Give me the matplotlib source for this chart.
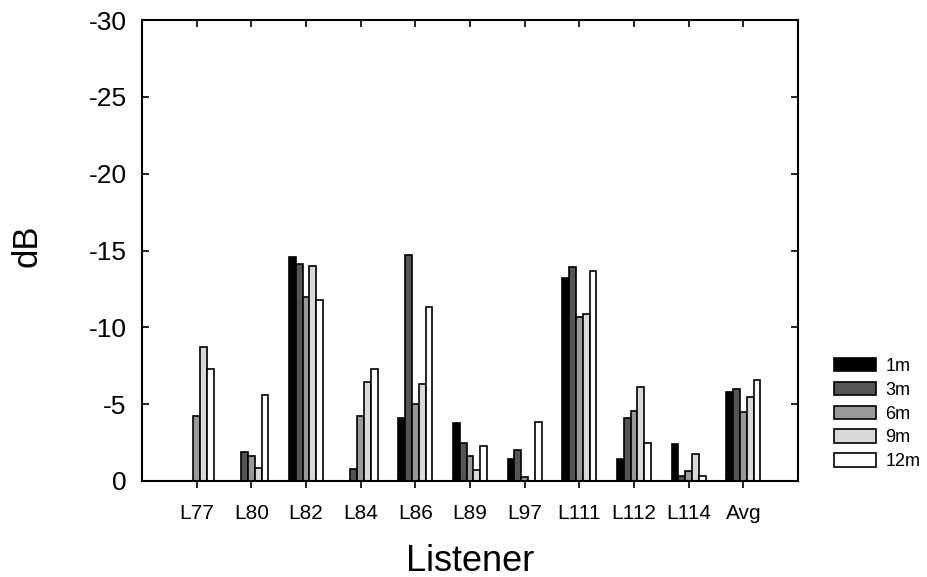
import matplotlib.pyplot as plt
import numpy as np

plt.rcParams['font.family'] = ['Liberation Sans', 'DejaVu Sans']
plt.rcParams['axes.unicode_minus'] = False

listeners = ['L77', 'L80', 'L82', 'L84', 'L86', 'L89', 'L97', 'L111', 'L112', 'L114', 'Avg']
distances = ['1m', '3m', '6m', '9m', '12m']

d1m = [0, 0, -14.6, 0, -4.1, -3.8, -1.4, -13.2, -1.4, -2.4, -5.8]
d3m = [0, -1.9, -14.1, -0.8, -14.7, -2.5, -2.0, -13.9, -4.1, -0.35, -6.0]
d6m = [-4.2, -1.65, -11.95, -4.2, -5.0, -1.65, -0.26, -10.65, -4.55, -0.67, -4.5]
d9m = [-8.75, -0.85, -14.0, -6.45, -6.3, -0.7, 0, -10.85, -6.1, -1.76, -5.45]
d12m = [-7.3, -5.6, -11.8, -7.3, -11.35, -2.25, -3.85, -13.65, -2.45, -0.35, -6.6]

series = [d1m, d3m, d6m, d9m, d12m]
colors = ['#000000', '#555555', '#999999', '#d9d9d9', '#ffffff']

fig = plt.figure(figsize=(9.27, 5.77), dpi=100)
ax = fig.add_axes([142/927, 1 - 481/577, 656/927, 461/577])

x = np.arange(len(listeners))
width = 0.125
for i, vals in enumerate(series):
    ax.bar(x + (i - 2) * width, vals, width, color=colors[i],
           edgecolor='black', linewidth=1.2, label=distances[i])

ax.set_xlim(-1, len(listeners))
ax.set_ylim(0, -30)
ax.set_yticks([0, -5, -10, -15, -20, -25, -30])
ax.set_xticks(x)
ax.set_xticklabels(listeners, fontsize=15)
ax.tick_params(axis='y', labelsize=19, pad=11, direction='in', length=5,
               width=1.2, right=True)
ax.tick_params(axis='x', direction='out', length=5, width=1.2, pad=11.5)
ax.tick_params(axis='x', which='major', top=True)
# top ticks point inward, bottom ones outward
for t in ax.xaxis.get_major_ticks():
    t.tick2line.set_marker(3)
for s in ax.spines.values():
    s.set_linewidth(1.5)

ax.set_ylabel('dB', fontsize=25)
ax.yaxis.set_label_coords(-0.15, 0.51)
ax.set_xlabel('Listener', fontsize=26, labelpad=15)

fig.legend(loc='center left', bbox_to_anchor=(834/927, 1 - 414/577),
           frameon=False, fontsize=13, handlelength=2.3, handleheight=0.75,
           handletextpad=0.55, labelspacing=0.38, borderpad=0, borderaxespad=0)

plt.savefig('out.png', dpi=100)
plt.close(fig)
